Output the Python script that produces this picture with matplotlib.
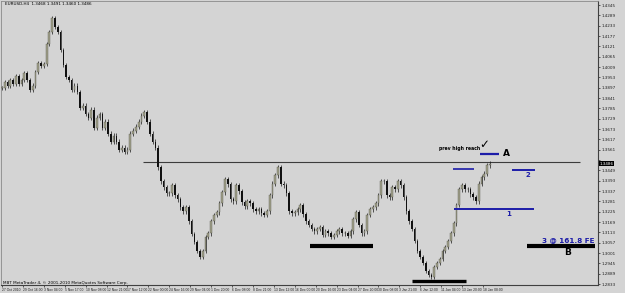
import matplotlib
matplotlib.use('Agg')
import matplotlib.pyplot as plt
import numpy as np

# EURUSD H4, one candle per two H4 bars (closes)
closes = [1.3897, 1.3929, 1.3908, 1.3940, 1.3918, 1.3962, 1.3918, 1.3940, 1.3978, 1.3940,
          1.3886, 1.3908, 1.3983, 1.4032, 1.4016, 1.4026, 1.4134, 1.4199, 1.4275, 1.4226,
          1.4199, 1.4102, 1.4021, 1.3956, 1.3940, 1.3886, 1.3908, 1.3875, 1.3789, 1.3800,
          1.3756, 1.3735, 1.3778, 1.3681, 1.3735, 1.3756, 1.3681, 1.3713, 1.3648, 1.3605,
          1.3638, 1.3605, 1.3562, 1.3573, 1.3551, 1.3562, 1.3648, 1.3665, 1.3686, 1.3713,
          1.3746, 1.3767, 1.3713, 1.3648, 1.3605, 1.3573, 1.3465, 1.3389, 1.3357, 1.3324,
          1.3324, 1.3368, 1.3314, 1.3292, 1.3249, 1.3227, 1.3249, 1.3173, 1.3103, 1.3060,
          1.3011, 1.2979, 1.3011, 1.3087, 1.3108, 1.3173, 1.3206, 1.3222, 1.3270, 1.3330,
          1.3400, 1.3373, 1.3292, 1.3281, 1.3368, 1.3335, 1.3276, 1.3254, 1.3281, 1.3270,
          1.3238, 1.3227, 1.3238, 1.3216, 1.3206, 1.3227, 1.3314, 1.3378, 1.3422, 1.3465,
          1.3378, 1.3368, 1.3324, 1.3227, 1.3216, 1.3222, 1.3238, 1.3260, 1.3211, 1.3173,
          1.3152, 1.3130, 1.3119, 1.3130, 1.3141, 1.3098, 1.3119, 1.3108, 1.3087, 1.3098,
          1.3119, 1.3130, 1.3108, 1.3108, 1.3092, 1.3119, 1.3184, 1.3222, 1.3152, 1.3108,
          1.3119, 1.3206, 1.3238, 1.3249, 1.3270, 1.3314, 1.3389, 1.3389, 1.3314, 1.3303,
          1.3357, 1.3346, 1.3389, 1.3368, 1.3303, 1.3227, 1.3173, 1.3130, 1.3065, 1.3011,
          1.2979, 1.2946, 1.2903, 1.2882, 1.2871, 1.2925, 1.2946, 1.2968, 1.3011, 1.3033,
          1.3065, 1.3108, 1.3162, 1.3260, 1.3346, 1.3368, 1.3346, 1.3346, 1.3319, 1.3303,
          1.3281, 1.3378, 1.3411, 1.3432, 1.3476, 1.3486]

time_labels = ["27 Oct 2010", "29 Oct 16:00", "3 Nov 04:00", "5 Nov 17:00", "10 Nov 08:00",
               "12 Nov 21:00", "17 Nov 12:00", "22 Nov 00:00", "24 Nov 16:00", "29 Nov 04:00",
               "1 Dec 20:00", "6 Dec 08:00", "8 Dec 21:00", "13 Dec 12:00", "16 Dec 00:00",
               "20 Dec 16:00", "23 Dec 04:00", "27 Dec 20:00", "30 Dec 08:00", "3 Jan 21:00",
               "6 Jan 12:00", "11 Jan 04:00", "13 Jan 20:00", "18 Jan 08:00"]

prev_high = 1.3497
level_a = 1.3540
level_hi = 1.3454
level_2 = 1.3449
level_1 = 1.3238
base_1 = 1.3038
base_2 = 1.2849
target_b = 1.3038

bg = '#d4d4d4'
wick = 0.0012

fig = plt.figure(figsize=(6.25, 2.93), dpi=100, facecolor=bg)
ax = fig.add_axes([1/625, 8/293, 597/625, 284/293], facecolor=bg)

c = np.array(closes)
o = np.concatenate([[c[0]], c[:-1]])
x = np.arange(len(c)) * 2.0
hi = np.maximum(o, c) + wick
lo = np.minimum(o, c) - wick
up = c >= o

ax.vlines(x, lo, hi, color='#1a1a1a', lw=0.5, zorder=2)
body_h = np.maximum(np.abs(c - o), 0.0003)
ax.bar(x[up], body_h[up], bottom=np.minimum(o, c)[up], width=1.3,
       color='#a2a28c', edgecolor='#4a4a40', linewidth=0.25, zorder=3)
ax.bar(x[~up], body_h[~up], bottom=np.minimum(o, c)[~up], width=1.1,
       color='#111111', linewidth=0, zorder=3)

# levels / annotations
ax.hlines(prev_high, 101, 414.6, color='#3c3c3c', lw=0.8, zorder=1)
blue = '#1c1ca8'
ax.hlines(level_a, 343, 356.5, color=blue, lw=1.6, zorder=4)
ax.hlines(level_hi, 323.5, 338.6, color=blue, lw=1.2, zorder=4)
ax.hlines(level_2, 365.9, 382.4, color=blue, lw=1.4, zorder=4)
ax.hlines(level_1, 324, 381.6, color=blue, lw=1.4, zorder=4)
ax.hlines(base_1, 221, 266, color='black', lw=3.0, zorder=4)
ax.hlines(base_2, 294, 333, color='black', lw=2.4, zorder=4)
ax.hlines(target_b, 376.6, 425.4, color='black', lw=3.0, zorder=4)

ax.text(359.5, level_a - 0.0002, 'A', fontsize=6.5, fontweight='bold', va='center', ha='left')
ax.text(377, level_2 - 0.0007, '2', fontsize=5, fontweight='bold', color=blue, va='top', ha='center')
ax.text(363.7, level_1 - 0.0007, '1', fontsize=5, fontweight='bold', color=blue, va='top', ha='center')
ax.text(406, target_b - 0.0011, 'B', fontsize=6.5, fontweight='bold', va='top', ha='center')
ax.text(424.7, target_b + 0.0018, '3 @ 161.8 FE', fontsize=5.2, fontweight='bold', color=blue,
        va='bottom', ha='right')
ax.text(313.5, 1.3567, 'prev high reach', fontsize=3.3, fontweight='bold', va='center', ha='left')
ax.text(342, 1.3592, '\u2713', fontsize=8.5, va='center', ha='left')

ax.text(2, 1.4350, 'EURUSD,H4  1.3468 1.3491 1.3460 1.3486', fontsize=3, va='center', ha='left')
ax.text(0.5, 1.2838, 'MBT MetaTrader 4, \u00a9 2001-2010 MetaQuotes Software Corp.', fontsize=3,
        va='center', ha='left')

# axes
ax.set_xlim(-0.72, 427.5)
ax.set_ylim(1.2828, 1.4367)
ax.yaxis.tick_right()
yt = [1.4345 - 0.0056 * k for k in range(28)]
ax.set_yticks(yt)
ylabels = ['' if abs(v - closes[-1]) < 0.0030 else '%.4f' % v for v in yt]
ax.set_yticklabels(ylabels, fontsize=3)
ax.set_xticks([15 * k for k in range(len(time_labels))])
ax.set_xticklabels(time_labels, fontsize=2.4, ha='left', family='Liberation Sans')
ax.tick_params(axis='both', length=1.5, width=0.5, pad=0.8, colors='#202020')
for s in ['left', 'top']:
    ax.spines[s].set_color('#8a8a8a')
    ax.spines[s].set_linewidth(0.6)
for s in ['right', 'bottom']:
    ax.spines[s].set_color('#404040')
    ax.spines[s].set_linewidth(0.8)

# current price marker on the scale
ax.text(1.003, closes[-1], '%.4f' % closes[-1], transform=ax.get_yaxis_transform(),
        fontsize=3, color='white', va='center', ha='left',
        bbox=dict(facecolor='black', edgecolor='none', pad=0.3), zorder=10, clip_on=False)

fig.savefig('out.png', dpi=100, facecolor=bg)
